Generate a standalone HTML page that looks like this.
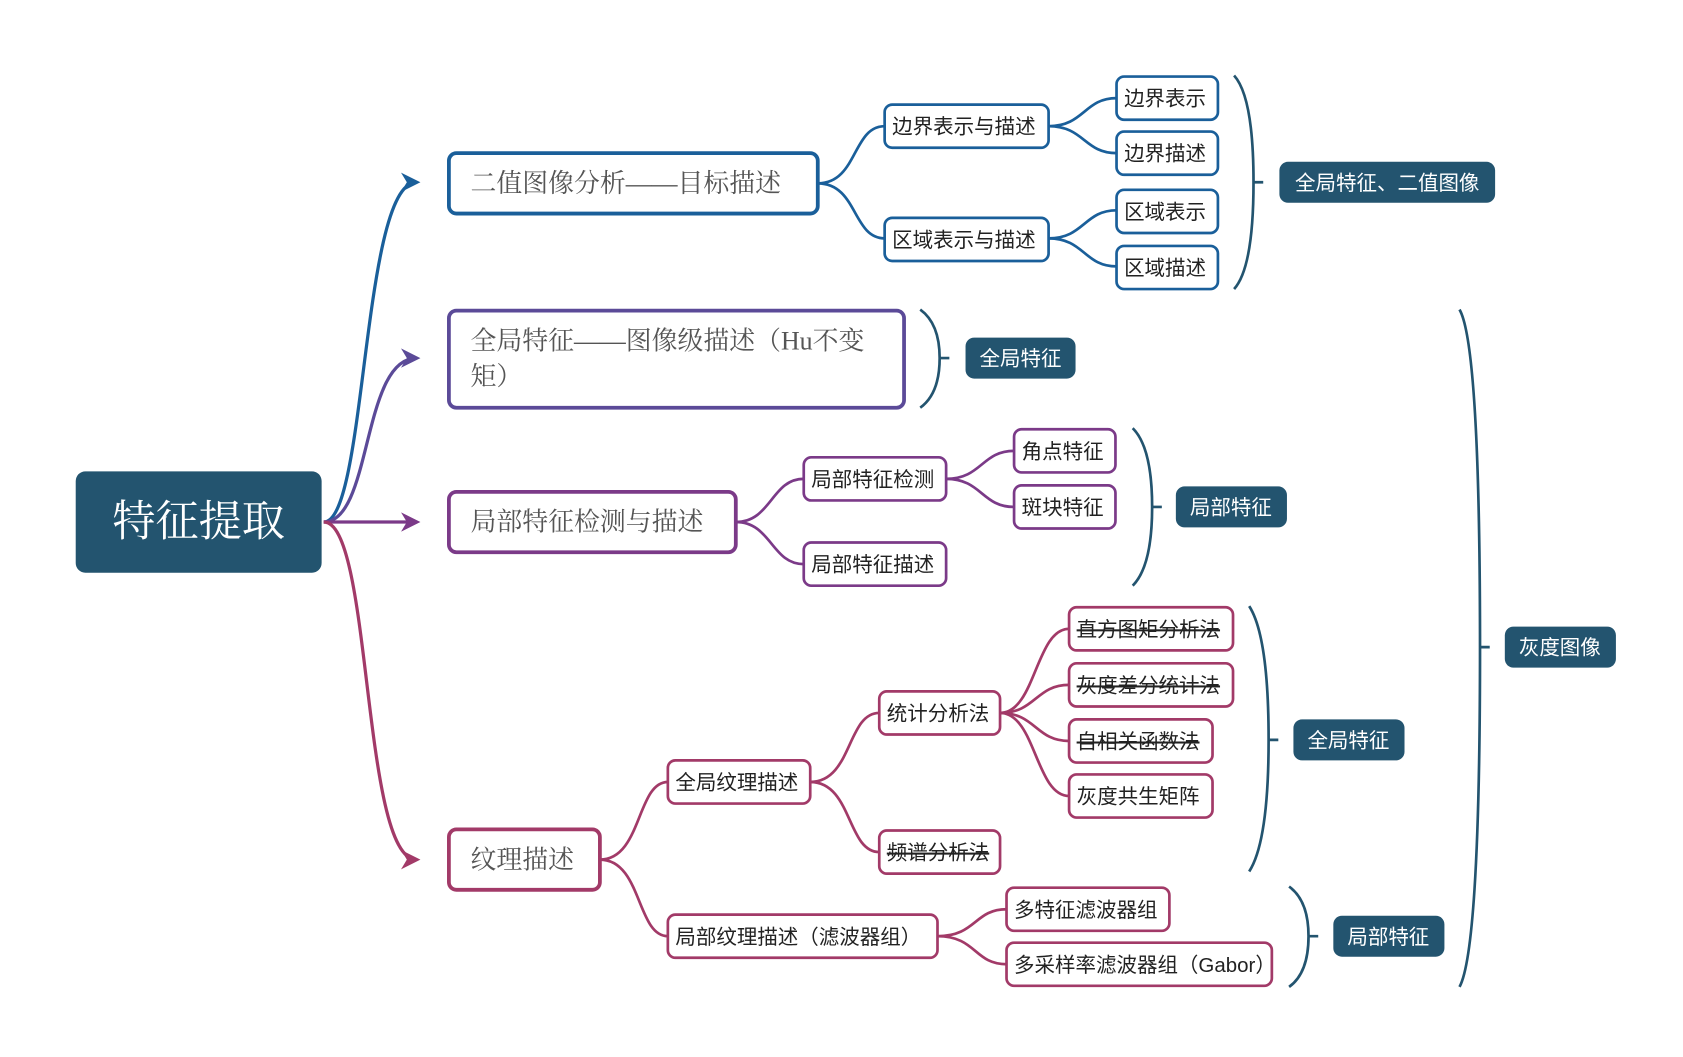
<!DOCTYPE html>
<html><head><meta charset="utf-8">
<style>
html,body{margin:0;padding:0;background:#fff;}
svg{display:block}
.l1{font-family:"Liberation Serif","Noto Serif CJK SC",serif;font-size:24px;fill:#555;}
.l2{font-family:"Liberation Sans","Noto Sans CJK SC",sans-serif;font-size:19px;fill:#222;}
.lb{font-family:"Liberation Sans","Noto Sans CJK SC",sans-serif;font-size:19px;fill:#fff;}
.st{text-decoration:line-through;}
</style></head>
<body>
<svg width="1683" height="1057" viewBox="0 0 1560 980" xmlns="http://www.w3.org/2000/svg">
<defs>
<marker id="a1" viewBox="0 0 10 10" refX="8" refY="5" markerWidth="6" markerHeight="6" orient="auto"><path d="M0,0 L10,5 L0,10 L3,5 z" fill="#1a5f9a"/></marker>
<marker id="a2" viewBox="0 0 10 10" refX="8" refY="5" markerWidth="6" markerHeight="6" orient="auto"><path d="M0,0 L10,5 L0,10 L3,5 z" fill="#5b4a98"/></marker>
<marker id="a3" viewBox="0 0 10 10" refX="8" refY="5" markerWidth="6" markerHeight="6" orient="auto"><path d="M0,0 L10,5 L0,10 L3,5 z" fill="#7b3a88"/></marker>
<marker id="a4" viewBox="0 0 10 10" refX="8" refY="5" markerWidth="6" markerHeight="6" orient="auto"><path d="M0,0 L10,5 L0,10 L3,5 z" fill="#a23a68"/></marker>
</defs>

<!-- root arrows -->
<g fill="none" stroke-width="3">
<path d="M300 484 C340 484,335 169,386 169" stroke="#1a5f9a" marker-end="url(#a1)"/>
<path d="M300 484 C345 484,335 332,386 332" stroke="#5b4a98" marker-end="url(#a2)"/>
<path d="M300 484 L386 484" stroke="#7b3a88" marker-end="url(#a3)"/>
<path d="M300 484 C345 484,335 797,386 797" stroke="#a23a68" marker-end="url(#a4)"/>
</g>

<!-- root -->
<rect x="70" y="437" width="228" height="94" rx="9" fill="#23546f"/>
<text x="184" y="497" text-anchor="middle" font-family="Liberation Serif,'Noto Serif CJK SC',serif" font-size="40" fill="#fff">特征提取</text>

<!-- connectors level 2/3 -->
<g fill="none" stroke-width="2.5">
<g stroke="#1a5f9a">
<path d="M758 170 C795 170,790 117,820 117"/>
<path d="M758 170 C795 170,790 221,820 221"/>
<path d="M972 117 C1005 117,1005 91,1035 91"/>
<path d="M972 117 C1005 117,1005 142,1035 142"/>
<path d="M972 221 C1005 221,1005 195,1035 195"/>
<path d="M972 221 C1005 221,1005 247,1035 247"/>
</g>
<g stroke="#7b3a88">
<path d="M682 484 C715 484,715 444,745 444"/>
<path d="M682 484 C715 484,715 523,745 523"/>
<path d="M877 444 C910 444,910 418,940 418"/>
<path d="M877 444 C910 444,910 470,940 470"/>
</g>
<g stroke="#a23a68">
<path d="M556 797 C595 797,590 725,619 725"/>
<path d="M556 797 C595 797,590 868,619 868"/>
<path d="M751 725 C790 725,785 661,815 661"/>
<path d="M751 725 C790 725,785 790,815 790"/>
<path d="M927 661 C960 661,960 583,991 583"/>
<path d="M927 661 C960 661,960 635,991 635"/>
<path d="M927 661 C960 661,960 687,991 687"/>
<path d="M927 661 C960 661,960 738,991 738"/>
<path d="M869 868 C905 868,903 843,933 843"/>
<path d="M869 868 C905 868,903 894,933 894"/>
</g>
</g>

<!-- level 1 nodes -->
<g fill="#fff" stroke-width="3.5">
<rect x="416" y="142" width="342" height="56" rx="7" stroke="#1a5f9a"/>
<rect x="416" y="288" width="422" height="90" rx="7" stroke="#5b4a98"/>
<rect x="416" y="456" width="266" height="56" rx="7" stroke="#7b3a88"/>
<rect x="416" y="769" width="140" height="56" rx="7" stroke="#a23a68"/>
</g>
<text class="l1" x="436" y="178">二值图像分析——目标描述</text>
<text class="l1" x="436" y="324">全局特征——图像级描述（Hu不变</text>
<text class="l1" x="436" y="357">矩）</text>
<text class="l1" x="436" y="492">局部特征检测与描述</text>
<text class="l1" x="436" y="805">纹理描述</text>

<!-- level 2/3 nodes -->
<g fill="#fff" stroke-width="2.5">
<g stroke="#1a5f9a">
<rect x="820" y="97" width="152" height="40" rx="7"/>
<rect x="820" y="202" width="152" height="40" rx="7"/>
<rect x="1035" y="71" width="94" height="40" rx="7"/>
<rect x="1035" y="122" width="94" height="40" rx="7"/>
<rect x="1035" y="176" width="94" height="40" rx="7"/>
<rect x="1035" y="228" width="94" height="40" rx="7"/>
</g>
<g stroke="#7b3a88">
<rect x="745" y="424" width="132" height="40" rx="7"/>
<rect x="745" y="503" width="132" height="40" rx="7"/>
<rect x="940" y="398" width="94" height="40" rx="7"/>
<rect x="940" y="450" width="94" height="40" rx="7"/>
</g>
<g stroke="#a23a68">
<rect x="619" y="705" width="132" height="40" rx="7"/>
<rect x="619" y="848" width="250" height="40" rx="7"/>
<rect x="815" y="641" width="112" height="40" rx="7"/>
<rect x="815" y="770" width="112" height="40" rx="7"/>
<rect x="991" y="563" width="152" height="40" rx="7"/>
<rect x="991" y="615" width="152" height="40" rx="7"/>
<rect x="991" y="667" width="133" height="40" rx="7"/>
<rect x="991" y="718" width="133" height="40" rx="7"/>
<rect x="933" y="823" width="151" height="40" rx="7"/>
<rect x="933" y="874" width="246" height="40" rx="7"/>
</g>
</g>
<g class="l2">
<text x="827" y="124">边界表示与描述</text>
<text x="827" y="229">区域表示与描述</text>
<text x="1042" y="98">边界表示</text>
<text x="1042" y="149">边界描述</text>
<text x="1042" y="203">区域表示</text>
<text x="1042" y="255">区域描述</text>
<text x="752" y="451">局部特征检测</text>
<text x="752" y="530">局部特征描述</text>
<text x="947" y="425">角点特征</text>
<text x="947" y="477">斑块特征</text>
<text x="626" y="732">全局纹理描述</text>
<text x="626" y="875">局部纹理描述（滤波器组）</text>
<text x="822" y="668">统计分析法</text>
<text x="822" y="797" class="st">频谱分析法</text>
<text x="998" y="590" class="st">直方图矩分析法</text>
<text x="998" y="642" class="st">灰度差分统计法</text>
<text x="998" y="694" class="st">自相关函数法</text>
<text x="998" y="745">灰度共生矩阵</text>
<text x="940" y="850">多特征滤波器组</text>
<text x="940" y="901">多采样率滤波器组（Gabor）</text>
</g>

<!-- brackets -->
<g fill="none" stroke="#23546f" stroke-width="2.5">
<path d="M1144 70 Q1162 90 1162 169 Q1162 248 1144 268 M1162 169 H1171"/>
<path d="M853 287 Q871 300 871 332 Q871 365 853 378 M871 332 H880"/>
<path d="M1050 397 Q1068 415 1068 470 Q1068 525 1050 543 M1068 470 H1077"/>
<path d="M1158 562 Q1176 590 1176 686 Q1176 780 1158 808 M1176 686 H1185"/>
<path d="M1195 822 Q1213 835 1213 868 Q1213 902 1195 915 M1213 868 H1222"/>
<path d="M1353 287 Q1372 320 1372 600 Q1372 880 1353 915 M1372 600 H1381"/>
</g>

<!-- labels -->
<g fill="#23546f">
<rect x="1186" y="150" width="200" height="38" rx="8"/>
<rect x="895" y="313" width="102" height="38" rx="8"/>
<rect x="1090" y="451" width="103" height="38" rx="8"/>
<rect x="1199" y="667" width="103" height="38" rx="8"/>
<rect x="1236" y="849" width="103" height="38" rx="8"/>
<rect x="1395" y="581" width="103" height="38" rx="8"/>
</g>
<g class="lb" text-anchor="middle">
<text x="1286" y="176">全局特征、二值图像</text>
<text x="946" y="339">全局特征</text>
<text x="1141" y="477">局部特征</text>
<text x="1250" y="693">全局特征</text>
<text x="1287" y="875">局部特征</text>
<text x="1446" y="607">灰度图像</text>
</g>
</svg>
</body></html>
